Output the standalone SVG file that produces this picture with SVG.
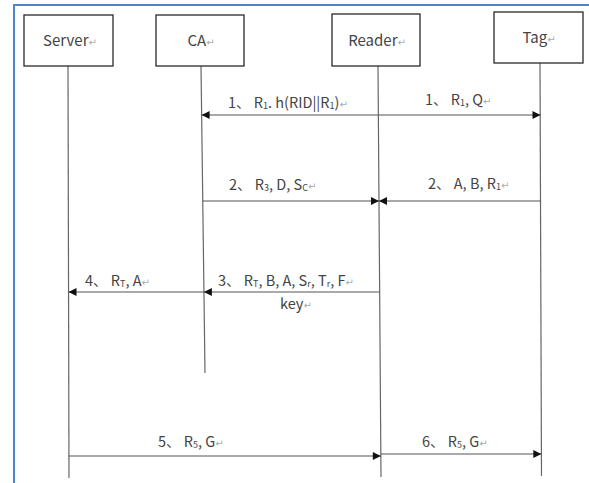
<svg xmlns="http://www.w3.org/2000/svg" width="589" height="483" viewBox="0 0 589 483">
  <style>
    .frame { stroke: #4f84cc; stroke-width: 2; fill: none; }
    .box { fill: #ffffff; stroke: #2a2a2a; stroke-width: 1.3; }
    .life { stroke: #666; stroke-width: 1.2; }
    .msg { stroke: #555; stroke-width: 1.2; fill: none; }
    text { font-family: "Noto Sans CJK SC", "Noto Sans", sans-serif; fill: #444; }
    .name { font-size: 15px; text-anchor: middle; }
    .lbl { font-size: 14.5px; }
    .sub { font-size: 9px; }
    .ret { font-family: "DejaVu Sans", sans-serif; font-size: 10px; fill: #aaa; }
  </style>
  <defs>
    <marker id="arrowEnd" viewBox="0 0 10 10" refX="10" refY="5" markerWidth="10" markerHeight="8" markerUnits="userSpaceOnUse" orient="auto">
      <path d="M0,0 L10,5 L0,10 z" fill="#111"/>
    </marker>
    <marker id="arrowStart" viewBox="0 0 10 10" refX="0" refY="5" markerWidth="10" markerHeight="8" markerUnits="userSpaceOnUse" orient="auto">
      <path d="M10,0 L0,5 L10,10 z" fill="#111"/>
    </marker>
  </defs>

  <rect width="589" height="483" fill="#ffffff"/>
  <!-- page frame -->
  <path class="frame" d="M14,483 V5 H589"/>

  <!-- lifelines (drawn by hand, slightly slanted) -->
  <g id="lifelines">
    <line class="life" x1="68" y1="66" x2="69" y2="478"/>
    <line class="life" x1="201" y1="66" x2="205" y2="373"/>
    <line class="life" x1="378" y1="66" x2="381" y2="477"/>
    <line class="life" x1="540" y1="63" x2="541.5" y2="476"/>
  </g>

  <!-- participants -->
  <g id="server">
    <rect class="box" x="24" y="15" width="89" height="51"/>
    <text class="name" x="70" y="46">Server<tspan class="ret">↵</tspan></text>
  </g>
  <g id="ca">
    <rect class="box" x="156" y="15" width="88" height="51"/>
    <text class="name" x="201" y="46">CA<tspan class="ret">↵</tspan></text>
  </g>
  <g id="reader">
    <rect class="box" x="332" y="14" width="88" height="52"/>
    <text class="name" x="377" y="46">Reader<tspan class="ret">↵</tspan></text>
  </g>
  <g id="tag">
    <rect class="box" x="494" y="12" width="89" height="51"/>
    <text class="name" x="539" y="43">Tag<tspan class="ret">↵</tspan></text>
  </g>

  <!-- messages -->
  <g id="connectors">
    <line class="msg" x1="201.6" y1="115" x2="540.5" y2="115" marker-start="url(#arrowStart)" marker-end="url(#arrowEnd)"/>
    <line class="msg" x1="202.8" y1="201" x2="379" y2="201" marker-end="url(#arrowEnd)"/>
    <line class="msg" x1="540.8" y1="201" x2="379" y2="201" marker-end="url(#arrowEnd)"/>
    <line class="msg" x1="379.6" y1="292" x2="203.9" y2="292" marker-end="url(#arrowEnd)"/>
    <line class="msg" x1="203.9" y1="292" x2="68.5" y2="292" marker-end="url(#arrowEnd)"/>
    <line class="msg" x1="68.9" y1="456" x2="380.8" y2="456" marker-end="url(#arrowEnd)"/>
    <line class="msg" x1="380.8" y1="454" x2="541.3" y2="454" marker-end="url(#arrowEnd)"/>
  </g>

  <!-- message labels -->
  <g id="labels">
    <text class="lbl" x="228" y="108">1、 R<tspan class="sub" dy="1">1</tspan><tspan dy="-1">. h(RID||R</tspan><tspan class="sub" dy="1">1</tspan><tspan dy="-1">)</tspan><tspan class="ret">↵</tspan></text>
    <text class="lbl" x="425" y="105">1、 R<tspan class="sub" dy="1">1</tspan><tspan dy="-1">, Q</tspan><tspan class="ret">↵</tspan></text>
    <text class="lbl" x="229" y="190">2、 R<tspan class="sub" dy="1">3</tspan><tspan dy="-1">, D, S</tspan><tspan class="sub" dy="1">C</tspan><tspan class="ret" dy="-1">↵</tspan></text>
    <text class="lbl" x="428" y="189">2、 A, B, R<tspan class="sub" dy="1">1</tspan><tspan class="ret" dy="-1">↵</tspan></text>
    <text class="lbl" x="218" y="286">3、 R<tspan class="sub" dy="1">T</tspan><tspan dy="-1">, B, A, S</tspan><tspan class="sub" dy="1">r</tspan><tspan dy="-1">, T</tspan><tspan class="sub" dy="1">r</tspan><tspan dy="-1">, F</tspan><tspan class="ret">↵</tspan></text>
    <text class="lbl" x="280" y="309">key<tspan class="ret">↵</tspan></text>
    <text class="lbl" x="85" y="286">4、 R<tspan class="sub" dy="1">T</tspan><tspan dy="-1">, A</tspan><tspan class="ret">↵</tspan></text>
    <text class="lbl" x="158" y="447">5、 R<tspan class="sub" dy="1">5</tspan><tspan dy="-1">, G</tspan><tspan class="ret">↵</tspan></text>
    <text class="lbl" x="422" y="447">6、 R<tspan class="sub" dy="1">5</tspan><tspan dy="-1">, G</tspan><tspan class="ret">↵</tspan></text>
  </g>
</svg>
